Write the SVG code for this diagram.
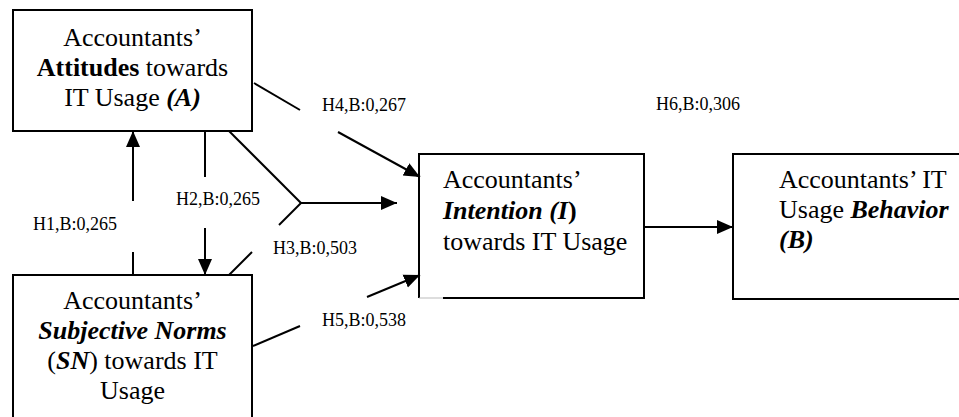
<svg xmlns="http://www.w3.org/2000/svg" width="959" height="417" viewBox="0 0 959 417">
<style>
  .box{fill:#fff;stroke:#000;stroke-width:2}
  .t{font-family:'Liberation Serif',Tinos,'Times New Roman','DejaVu Serif',serif;font-size:26px;fill:#000}
  .c{text-anchor:middle}
  .b{font-weight:bold}
  .bi{font-weight:bold;font-style:italic}
  .lbl{font-family:'Liberation Serif',Tinos,'Times New Roman','DejaVu Serif',serif;font-size:18px;fill:#000}
  .ln{stroke:#000;stroke-width:2;fill:none}
</style>
<defs>
  <marker id="ah" markerUnits="userSpaceOnUse" markerWidth="16" markerHeight="16" viewBox="0 0 16 16" refX="16" refY="8" orient="auto">
    <path d="M0,1 L16,8 L0,15 Z" fill="#000"/>
  </marker>
</defs>
<rect width="959" height="417" fill="#fff"/>
<g id="node-A">
  <rect class="box" x="13" y="10" width="239" height="121"/>
  <text class="t c" x="132.5" y="46">Accountants’</text>
  <text class="t c" x="132.5" y="76"><tspan class="b">Attitudes</tspan> towards</text>
  <text class="t c" x="132.5" y="106">IT Usage <tspan class="bi">(A)</tspan></text>
</g>
<g id="node-SN">
  <rect class="box" x="13" y="275" width="239" height="160"/>
  <text class="t c" x="132.5" y="309">Accountants’</text>
  <text class="t c" x="132.5" y="339"><tspan class="bi">Subjective Norms</tspan></text>
  <text class="t c" x="132.5" y="369">(<tspan class="bi">SN</tspan>) towards IT</text>
  <text class="t c" x="132.5" y="399">Usage</text>
</g>
<g id="node-I">
  <path class="box" d="M443,298 H644 V154 H419 V298"/>
  <line x1="419" y1="298" x2="443" y2="298" stroke="#bbb" stroke-width="1"/>
  <text class="t" x="443" y="188">Accountants’</text>
  <text class="t" x="443" y="219"><tspan class="bi">Intention (I</tspan><tspan class="b">)</tspan></text>
  <text class="t" x="443" y="250">towards IT Usage</text>
</g>
<g id="node-B">
  <rect class="box" x="733" y="154" width="240" height="145"/>
  <text class="t" x="779" y="188">Accountants’ IT</text>
  <text class="t" x="779" y="218">Usage <tspan class="bi">Behavior</tspan></text>
  <text class="t" x="779" y="248"><tspan class="bi">(B)</tspan></text>
</g>
<g id="connectors">
  <line class="ln" x1="133" y1="275" x2="133" y2="252"/>
  <line class="ln" x1="133" y1="201" x2="133" y2="131" marker-end="url(#ah)"/>
  <line class="ln" x1="205" y1="131" x2="205" y2="177"/>
  <line class="ln" x1="205" y1="228" x2="205" y2="275" marker-end="url(#ah)"/>
  <line class="ln" x1="229" y1="131" x2="301" y2="203"/>
  <line class="ln" x1="301" y1="203" x2="279" y2="225"/>
  <line class="ln" x1="252" y1="252" x2="229" y2="275"/>
  <line class="ln" x1="301" y1="203" x2="397" y2="203" marker-end="url(#ah)"/>
  <line class="ln" x1="254" y1="83" x2="300" y2="110"/>
  <line class="ln" x1="338" y1="132" x2="420" y2="177" marker-end="url(#ah)"/>
  <line class="ln" x1="253" y1="346" x2="300" y2="326"/>
  <line class="ln" x1="367" y1="297" x2="420" y2="275" marker-end="url(#ah)"/>
  <line class="ln" x1="644" y1="227" x2="733" y2="227" marker-end="url(#ah)"/>
</g>
<g id="labels">
  <text class="lbl" x="322" y="111">H4,B:0,267</text>
  <text class="lbl" x="656" y="110">H6,B:0,306</text>
  <text class="lbl" x="176" y="205">H2,B:0,265</text>
  <text class="lbl" x="33" y="230">H1,B:0,265</text>
  <text class="lbl" x="273" y="254">H3,B:0,503</text>
  <text class="lbl" x="322" y="326">H5,B:0,538</text>
</g>
</svg>
